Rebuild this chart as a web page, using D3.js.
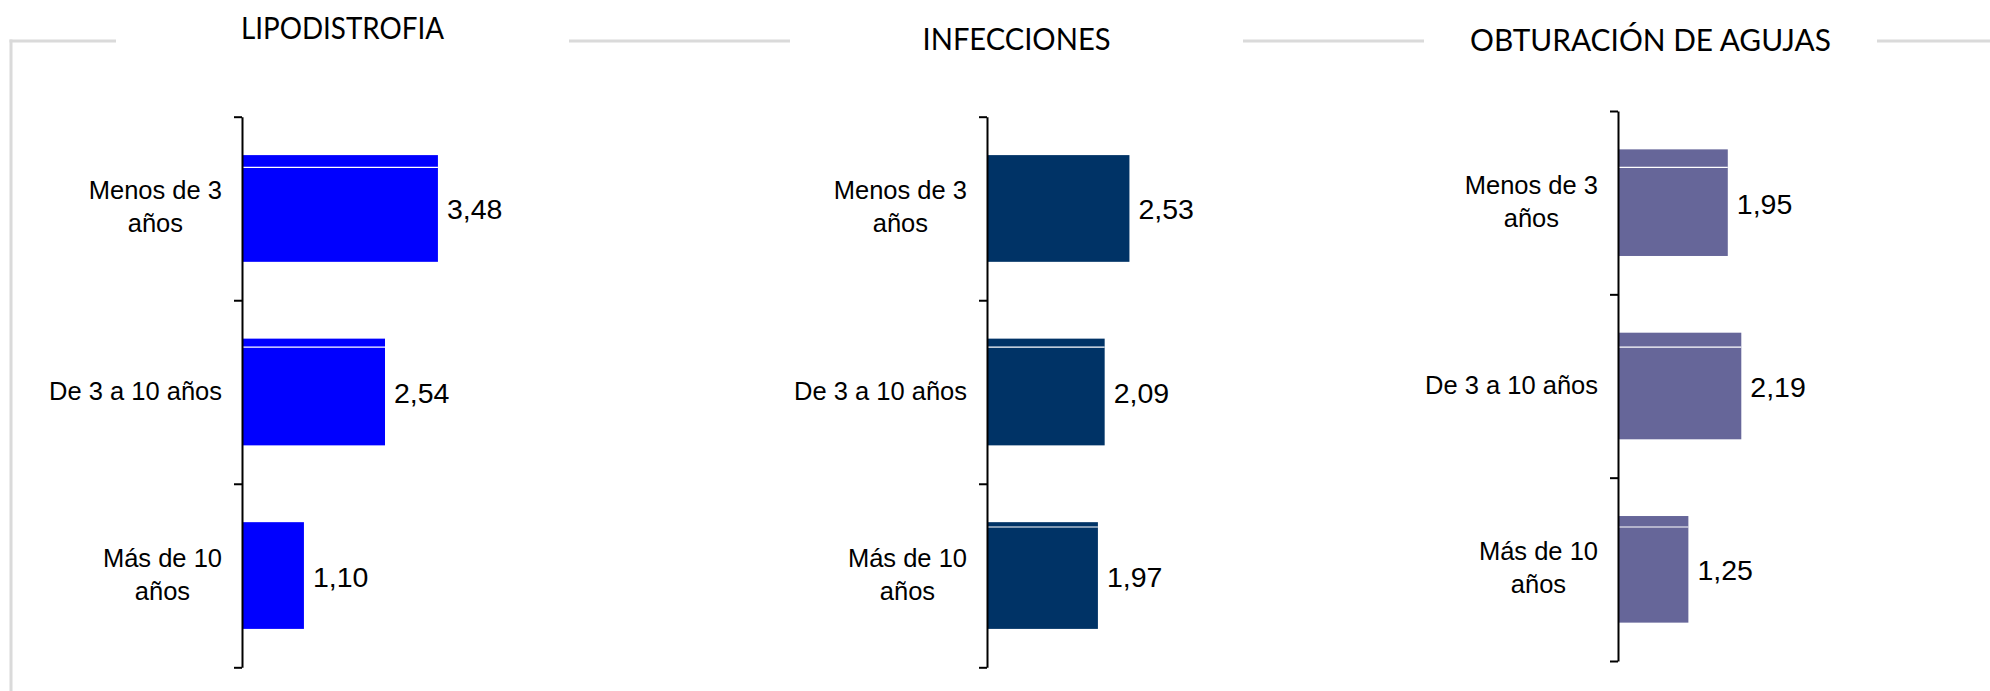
<!DOCTYPE html>
<html><head><meta charset="utf-8">
<script src="https://cdn.jsdelivr.net/npm/d3@7"></script>
<style>html,body{margin:0;padding:0;background:#fff;overflow:hidden}</style>
</head><body>
<svg id="chart" width="1990" height="691"></svg>
<script>
// ---- data ----
const categories = ["Menos de 3 años", "De 3 a 10 años", "Más de 10 años"];
const categoryLines = [["Menos de 3", "años"], ["De 3 a 10 años"], ["Más de 10", "años"]];
const panelTitles = ["LIPODISTROFIA", "INFECCIONES", "OBTURACIÓN DE AGUJAS"];
const lipodistrofiaValues = [3.48, 2.54, 1.10];
const infeccionesValues = [2.53, 2.09, 1.97];
const obturacionValues = [1.95, 2.19, 1.25];
const seriesValues = [lipodistrofiaValues, infeccionesValues, obturacionValues];
const valueDomain = [0, 4];

// ---- layout / style ----
const layout = [
  {axisX: 242, top: 116.7, bottom: 667.3, titleX: 342.5, titleY: 39.3, titleW: 203, color: "#0000ff", streak: [1, 1, 0]},
  {axisX: 987, top: 116.7, bottom: 667.3, titleX: 1016.5, titleY: 50, titleW: 188, color: "#003366", streak: [0, 1, 1]},
  {axisX: 1618, top: 111, bottom: 661, titleX: 1650.5, titleY: 50.7, titleW: 361, color: "#666699", streak: [1, 1, 1]}
];
const FONT = "'Liberation Sans', Arial, sans-serif";
const TITLE_FONT = "Lato, 'Liberation Sans', sans-serif";
const frameY = 41, frameX = 11, gapW = 453, frameColor = "#dadada";

const svg = d3.select("#chart");
svg.append("rect").attr("width", 1990).attr("height", 691).attr("fill", "#fff");

// frame with gaps for titles
const frame = svg.append("g").attr("stroke", frameColor).attr("stroke-width", 3).attr("fill", "none");
frame.append("line").attr("x1", frameX).attr("x2", frameX).attr("y1", frameY - 1.5).attr("y2", 700);
let xs = frameX - 1.5;
layout.forEach(L => {
  frame.append("line").attr("x1", xs).attr("x2", L.titleX - gapW / 2).attr("y1", frameY).attr("y2", frameY);
  xs = L.titleX + gapW / 2;
});
frame.append("line").attr("x1", xs).attr("x2", 1995).attr("y1", frameY).attr("y2", frameY);

const x = d3.scaleLinear().domain(valueDomain).range([0, 225.2]);
const fmt = v => d3.format(".2f")(v).replace(".", ",");

layout.forEach((L, p) => {
  const vals = seriesValues[p];
  const g = svg.append("g");
  const y = d3.scaleBand().domain(categories).range([L.top, L.bottom])
    .paddingInner(0.4185).paddingOuter(0.20925);

  // title
  g.append("text").attr("x", L.titleX).attr("y", L.titleY)
    .attr("text-anchor", "middle").attr("font-family", TITLE_FONT).attr("font-weight", 400)
    .attr("font-size", 30)
    .attr("textLength", L.titleW).attr("lengthAdjust", "spacingAndGlyphs")
    .attr("fill", "#000").text(panelTitles[p]);

  // bars
  g.selectAll("rect.bar").data(vals).join("rect").attr("class", "bar")
    .attr("x", L.axisX).attr("y", (d, i) => y(categories[i]))
    .attr("width", d => x(d)).attr("height", y.bandwidth())
    .attr("fill", L.color);

  // thin white rendering streaks seen in the original
  g.selectAll("line.streak").data(vals.map((d, i) => ({d, i})).filter(o => L.streak[o.i]))
    .join("line").attr("class", "streak")
    .attr("x1", L.axisX).attr("x2", o => L.axisX + x(o.d))
    .attr("y1", o => 167.3 + o.i * 179.85).attr("y2", o => 167.3 + o.i * 179.85)
    .attr("stroke", "#fff").attr("stroke-width", 1.2);

  // value labels
  g.selectAll("text.val").data(vals).join("text").attr("class", "val")
    .attr("x", d => L.axisX + x(d) + 9)
    .attr("y", (d, i) => y(categories[i]) + y.bandwidth() / 2 + 11)
    .attr("font-family", FONT).attr("font-size", 28.5).attr("fill", "#000")
    .text(fmt);

  // category labels (right-aligned block, centered lines)
  categories.forEach((c, i) => {
    const lines = categoryLines[i];
    const cy = y(c) + y.bandwidth() / 2;
    const t = g.append("text").attr("font-family", FONT).attr("font-size", 25.5)
      .attr("fill", "#000").attr("text-anchor", "middle");
    const spans = lines.map((ln, j) => t.append("tspan")
      .attr("y", cy + 7.5 + (j - (lines.length - 1) / 2) * 33).text(ln));
    let maxW = 0;
    spans.forEach(s => { maxW = Math.max(maxW, s.node().getComputedTextLength()); });
    const cx = L.axisX - 20 - maxW / 2;
    spans.forEach(s => s.attr("x", cx));
  });

  // axis with ticks at band boundaries
  const b = d3.scaleLinear().domain([0, categories.length]).range([L.top, L.bottom]);
  const ax = g.append("g").attr("transform", `translate(${L.axisX},0)`)
    .call(d3.axisLeft(b).tickValues(d3.range(categories.length + 1)).tickSize(8).tickSizeOuter(0).tickFormat(""));
  ax.select(".domain").attr("stroke", "#000").attr("stroke-width", 2);
  ax.selectAll(".tick line").attr("stroke", "#000").attr("stroke-width", 2);
});
</script>
</body></html>
